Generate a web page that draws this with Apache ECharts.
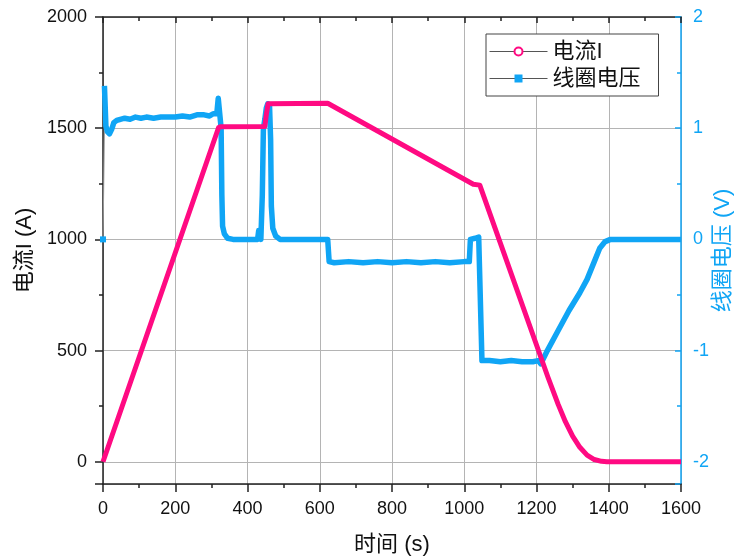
<!DOCTYPE html>
<html>
<head>
<meta charset="utf-8">
<script src="https://cdn.jsdelivr.net/npm/echarts@6/dist/echarts.min.js"></script>
<style>
html, body { margin: 0; padding: 0; background: #fff; }
#chart { width: 736px; height: 557px; }
</style>
</head>
<body>
<div id="chart"></div>
<script>
// Coil current I (A) against time (s)
const currentTime  = [0, 5, 320, 326, 448, 452, 457, 622, 1025, 1043, 1232, 1260, 1280, 1300, 1320, 1340, 1360, 1380, 1395, 1600];
const currentValue = [0, 0, 1503, 1507, 1508, 1560, 1610, 1612, 1248, 1244, 379, 258, 180, 115, 65, 30, 10, 2, 0, 0];

// Coil voltage (V) against time (s)
const voltageTime = [
  4, 6, 8, 12, 18, 24, 30, 38, 48, 60, 75, 90, 105, 120, 140, 160, 180, 200, 220, 240,
  260, 280, 295, 305, 315, 319, 324, 327, 329, 331, 336, 345, 360, 400, 428, 431, 434, 437, 439, 441,
  444, 448, 452, 456, 461, 464, 466, 470, 478, 490, 540, 600, 622, 626, 640, 680, 720, 760, 800, 840,
  880, 920, 960, 1000, 1014, 1017, 1022, 1030, 1040, 1043, 1049, 1070, 1100, 1130, 1160, 1190, 1205, 1212, 1230, 1260,
  1290, 1320, 1340, 1360, 1375, 1390, 1405, 1420, 1440, 1600
];
const voltageValue = [
  1.38, 1.2, 1.02, 0.97, 0.95, 0.99, 1.05, 1.07, 1.08, 1.09, 1.08, 1.1, 1.09, 1.1, 1.09, 1.1, 1.1, 1.1, 1.11, 1.1,
  1.12, 1.12, 1.11, 1.13, 1.13, 1.27, 1.27, 1.0, 0.4, 0.12, 0.05, 0.01, 0.0, 0.0, 0.0, 0.08, 0.08, 0.0, 0.0, 0.4,
  1.0, 1.08, 1.18, 1.22, 1.2, 0.9, 0.3, 0.1, 0.03, 0.0, 0.0, 0.0, 0.0, -0.2, -0.21, -0.2, -0.21, -0.2, -0.21, -0.2,
  -0.21, -0.2, -0.21, -0.2, -0.2, 0.0, 0.01, 0.01, 0.02, 0.02, -1.09, -1.09, -1.1, -1.09, -1.1, -1.1, -1.09, -1.12, -1.0, -0.82,
  -0.64, -0.48, -0.36, -0.2, -0.08, -0.02, 0.0, 0.0, 0.0, 0.0
];

// First sample, joined to the rest by a thin line
const voltageStartTime  = [0, 4];
const voltageStartValue = [0, 0.98];

// Tick labels
const timeTickLabels    = [0, 200, 400, 600, 800, 1000, 1200, 1400, 1600];
const currentTickLabels = [0, 500, 1000, 1500, 2000];
const voltageTickLabels = [-2, -1, 0, 1, 2];

const PINK = '#ff0a82';
const BLUE = '#10a5f5';
const GRID_GRAY = '#b4b4b4';
const LATIN = "'Liberation Sans', Arial, sans-serif";
const NAME_FONT = "'Liberation Sans', 'Noto Sans CJK SC', sans-serif";

const zip = (xs, ys) => xs.map((x, i) => [x, ys[i]]);

const chart = echarts.init(document.getElementById('chart'), null, { renderer: 'canvas' });

chart.setOption({
  animation: false,
  backgroundColor: '#fff',
  grid: { left: 103, right: 55, top: 17, bottom: 73, containLabel: false, outerBoundsMode: 'none' },
  legend: {
    orient: 'vertical',
    left: 486,
    top: 34,
    padding: [4, 18, 4, 3],
    itemGap: 0,
    itemWidth: 58,
    itemHeight: 10,
    backgroundColor: '#fff',
    borderColor: '#444',
    borderWidth: 1,
    borderRadius: 0,
    textStyle: { color: '#111', fontSize: 22, fontFamily: NAME_FONT, lineHeight: 27 },
    data: [
      { name: '电流I', lineStyle: { color: '#555', width: 1 }, itemStyle: { color: PINK } },
      { name: '线圈电压', lineStyle: { color: '#555', width: 1 }, itemStyle: { color: BLUE } }
    ]
  },
  xAxis: [
    {
      type: 'value',
      min: 0, max: 1600, interval: 200,
      position: 'bottom',
      name: '时间 (s)',
      nameLocation: 'middle',
      nameGap: 50,
      nameMoveOverlap: false,
      nameTextStyle: { color: '#111', fontSize: 22, fontFamily: NAME_FONT },
      axisLine: { show: true, onZero: false, lineStyle: { color: '#222', width: 1.5 } },
      axisTick: { show: true, inside: false, length: 8, lineStyle: { color: '#222', width: 1.5 } },
      minorTick: { show: true, splitNumber: 2, length: 4, lineStyle: { color: '#222', width: 1.5 } },
      axisLabel: {
        margin: 16, color: '#111', fontSize: 18, fontFamily: LATIN,
        formatter: v => timeTickLabels.includes(v) ? String(v) : ''
      },
      splitLine: { show: true, lineStyle: { color: GRID_GRAY, width: 1 } }
    },
    {
      type: 'value',
      min: 0, max: 1600, interval: 200,
      position: 'top',
      axisLine: { show: true, onZero: false, lineStyle: { color: '#222', width: 1.5 } },
      axisTick: { show: true, inside: true, length: 6, lineStyle: { color: '#222', width: 1.5 } },
      minorTick: { show: true, splitNumber: 2, length: 4, lineStyle: { color: '#222', width: 1.5 } },
      axisLabel: { show: false },
      splitLine: { show: false }
    }
  ],
  yAxis: [
    {
      type: 'value',
      min: -100, max: 2000, splitNumber: 4,
      position: 'left',
      name: '电流I (A)',
      nameLocation: 'middle',
      nameRotate: 90,
      nameGap: 67,
      nameMoveOverlap: false,
      nameTextStyle: { color: '#111', fontSize: 22, fontFamily: NAME_FONT },
      axisLine: { show: true, onZero: false, lineStyle: { color: '#222', width: 1.5 } },
      axisTick: { show: true, inside: false, length: 8, lineStyle: { color: '#222', width: 1.5 } },
      minorTick: { show: true, splitNumber: 2, length: 4, lineStyle: { color: '#222', width: 1.5 } },
      axisLabel: {
        margin: 16, color: '#111', fontSize: 18, fontFamily: LATIN,
        formatter: v => currentTickLabels.includes(v) ? String(v) : ''
      },
      splitLine: { show: true, lineStyle: { color: GRID_GRAY, width: 1 } }
    },
    {
      type: 'value',
      min: -2.2, max: 2, splitNumber: 4,
      position: 'right',
      name: '线圈电压 (V)',
      nameLocation: 'middle',
      nameRotate: 90,
      nameGap: 31,
      nameMoveOverlap: false,
      nameTextStyle: { color: BLUE, fontSize: 22, fontFamily: NAME_FONT },
      axisLine: { show: true, onZero: false, lineStyle: { color: BLUE, width: 1.5 } },
      axisTick: { show: true, inside: true, length: 6, lineStyle: { color: BLUE, width: 1.5 } },
      minorTick: { show: true, splitNumber: 2, length: 4, lineStyle: { color: BLUE, width: 1.5 } },
      axisLabel: {
        margin: 12, color: BLUE, fontSize: 18, fontFamily: LATIN,
        formatter: v => voltageTickLabels.includes(Math.round(v * 1000) / 1000) ? String(Math.round(v)) : ''
      },
      splitLine: { show: false }
    }
  ],
  series: [
    {
      name: '线圈电压',
      type: 'line',
      xAxisIndex: 0, yAxisIndex: 1,
      data: zip(voltageTime, voltageValue),
      symbol: 'rect', symbolSize: 8, showSymbol: false,
      lineStyle: { color: BLUE, width: 5.5, join: 'round' },
      itemStyle: { color: BLUE },
      z: 3
    },
    {
      name: 'voltage-start',
      type: 'line',
      xAxisIndex: 0, yAxisIndex: 1,
      data: zip(voltageStartTime, voltageStartValue).map((p, i) => ({
        value: p, symbol: i === 0 ? 'rect' : 'none', symbolSize: 6
      })),
      showSymbol: true,
      lineStyle: { color: '#999', width: 1 },
      itemStyle: { color: BLUE },
      z: 2
    },
    {
      name: '电流I',
      type: 'line',
      xAxisIndex: 0, yAxisIndex: 0,
      data: zip(currentTime, currentValue),
      symbol: 'emptyCircle', symbolSize: 8, showSymbol: false,
      lineStyle: { color: PINK, width: 5, join: 'round' },
      itemStyle: { color: PINK },
      z: 4
    }
  ]
});
</script>
</body>
</html>
